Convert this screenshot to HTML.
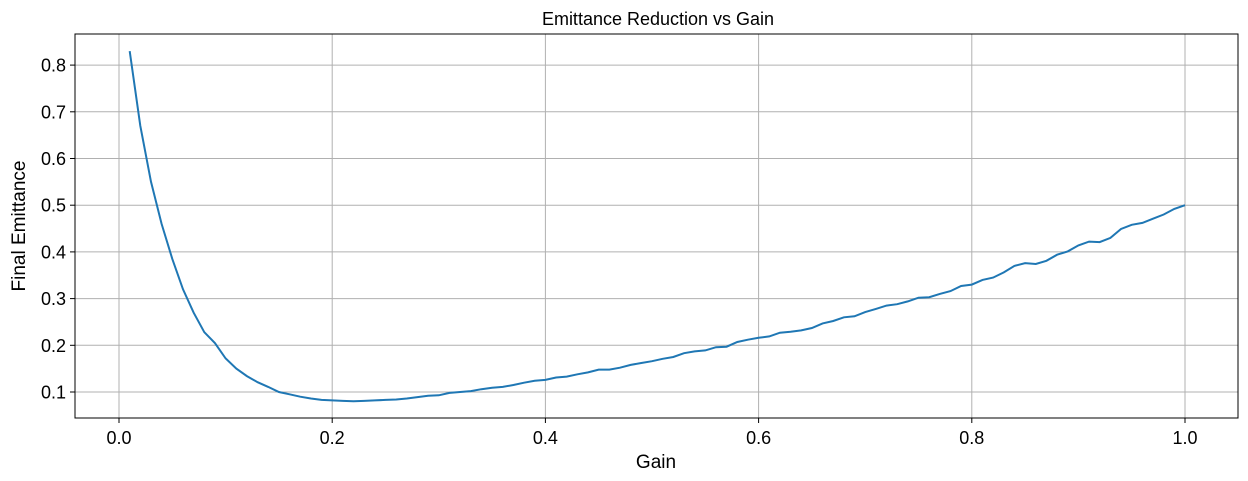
<!DOCTYPE html>
<html><head><meta charset="utf-8"><style>
html,body{margin:0;padding:0;background:#fff;}
svg{display:block;font-family:"Liberation Sans","DejaVu Sans",sans-serif;}
</style></head><body>
<svg id="chart" width="1248" height="481">
<text x="658" y="25" font-size="18" text-anchor="middle" fill="#000">Emittance Reduction vs Gain</text>
<g id="grid"></g>
<rect x="75" y="34" width="1163" height="384" fill="none" stroke="#000" stroke-width="1"/>
<g id="ticks"></g>
<path id="line" fill="none" stroke="#1f77b4" stroke-width="2"/>
<text x="656" y="468" font-size="19" text-anchor="middle">Gain</text>
<text transform="translate(25,226) rotate(-90)" font-size="19" text-anchor="middle">Final Emittance</text>
</svg>
<script>
const gains = [];
for (let i = 1; i <= 100; i++) gains.push(i / 100);
const emittance = [0.83,0.67,0.55,0.46,0.385,0.32,0.27,0.228,0.205,0.172,
0.150,0.134,0.121,0.111,0.100,0.095,0.090,0.086,0.083,0.082,
0.081,0.080,0.081,0.082,0.083,0.084,0.086,0.089,0.092,0.093,
0.098,0.100,0.102,0.106,0.109,0.111,0.115,0.120,0.124,0.126,
0.131,0.133,0.138,0.142,0.148,0.148,0.152,0.158,0.162,0.166,
0.171,0.175,0.183,0.187,0.189,0.196,0.197,0.207,0.212,0.216,
0.219,0.227,0.229,0.232,0.237,0.247,0.252,0.260,0.262,0.271,
0.278,0.285,0.288,0.294,0.302,0.303,0.310,0.316,0.327,0.330,
0.340,0.345,0.356,0.370,0.376,0.374,0.381,0.394,0.401,0.414,
0.422,0.421,0.430,0.449,0.458,0.462,0.471,0.480,0.492,0.500];
const xTicks = [0.0,0.2,0.4,0.6,0.8,1.0];
const xTickLabels = ["0.0","0.2","0.4","0.6","0.8","1.0"];
const yTicks = [0.1,0.2,0.3,0.4,0.5,0.6,0.7,0.8];
const yTickLabels = ["0.1","0.2","0.3","0.4","0.5","0.6","0.7","0.8"];

const NS = "http://www.w3.org/2000/svg";
const xs = v => 119 + v * 1066;
const ys = v => 392 - (v - 0.1) * 467;
const grid = document.getElementById("grid");
const ticks = document.getElementById("ticks");
function mk(tag, attrs, parent) {
  const e = document.createElementNS(NS, tag);
  for (const k in attrs) e.setAttribute(k, attrs[k]);
  parent.appendChild(e);
  return e;
}
xTicks.forEach((t, i) => {
  const x = xs(t);
  const g = mk("line", {x1:x, x2:x, y1:34, y2:418, stroke:"#b0b0b0", "stroke-width":1}, grid);
  
  
  mk("line", {x1:x, x2:x, y1:418, y2:423, stroke:"#000"}, ticks);
  const tx = mk("text", {x:x, y:444, "font-size":18, "text-anchor":"middle"}, ticks);
  tx.textContent = xTickLabels[i];
  
  
});
yTicks.forEach((t, i) => {
  const y = ys(t);
  const g = mk("line", {x1:75, x2:1238, y1:y, y2:y, stroke:"#b0b0b0", "stroke-width":1}, grid);
  
  
  mk("line", {x1:70, x2:75, y1:y, y2:y, stroke:"#000"}, ticks);
  const tx = mk("text", {x:66, y:y+6.5, "font-size":18, "text-anchor":"end"}, ticks);
  tx.textContent = yTickLabels[i];
  
  
});
document.getElementById("line").setAttribute("d",
  gains.map((g, i) => (i ? "L" : "M") + xs(g).toFixed(1) + "," + ys(emittance[i]).toFixed(1)).join(""));
</script>
</body></html>
